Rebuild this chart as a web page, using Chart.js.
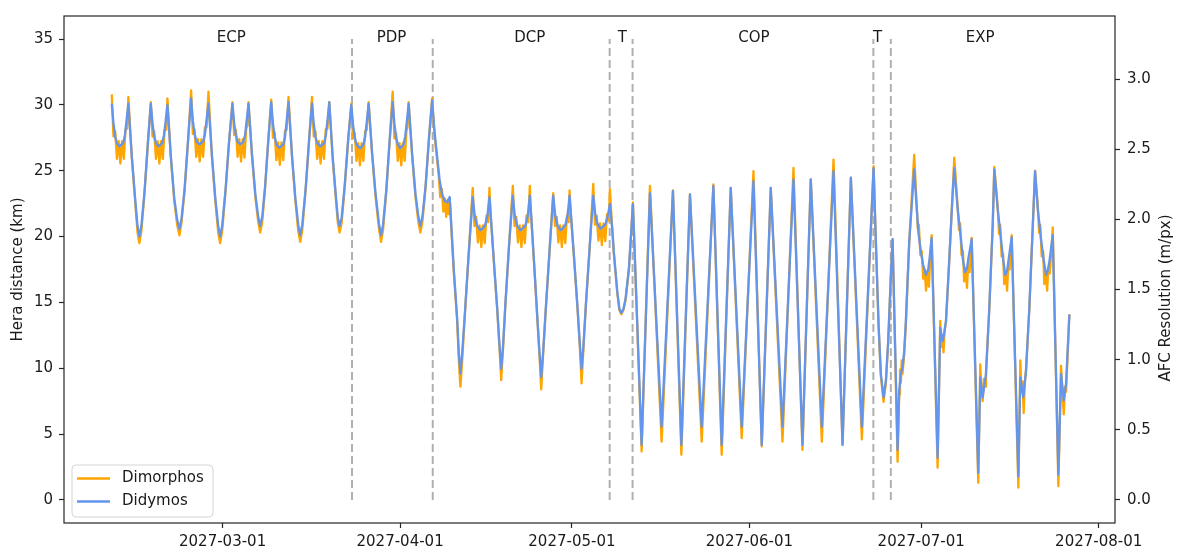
<!DOCTYPE html>
<html>
<head>
<meta charset="utf-8">
<script src="https://cdn.jsdelivr.net/npm/chart.js@4.4.1/dist/chart.umd.min.js"></script>
<style>
    html, body { margin: 0; padding: 0; background: #ffffff; }
    #wrap { width: 1177px; height: 553px; }
</style>
</head>
<body>
<div id="wrap"><canvas id="heraChart" width="1177" height="553"></canvas></div>
<script>
// x values are days of 2027 (0 = 2027-01-01 00:00)
const tickDays = [59, 90, 120, 151, 181, 212];
const tickLabels = ["2027-03-01", "2027-04-01", "2027-05-01", "2027-06-01", "2027-07-01", "2027-08-01"];
const kmTicks = [0, 5, 10, 15, 20, 25, 30, 35];
const resTicks = [0.0, 0.5, 1.0, 1.5, 2.0, 2.5, 3.0];
const kmPerRes = 10.65; // km of Hera distance per m/px of AFC resolution

const phaseBounds = [81.6, 95.7, 126.6, 130.6, 172.65, 175.7];
const phaseLineKm = [0, 35];
const phaseNames = ["ECP", "PDP", "DCP", "T", "COP", "T", "EXP"];
const phaseLabelDays = [60.5, 88.5, 112.65, 128.8, 151.8, 173.4, 191.3];
const phaseLabelKm = 34.8;

// Didymos distance (km)
const didymosECP = [
    [39.64,30.1],[39.94,28.6],[40.24,27.6],[40.54,27.1],[40.97,26.85],[41.64,27.1],[41.94,27.7],[42.24,28.9],[42.54,30.1],
    [43.14,26.1],[43.74,22.8],[44.14,20.8],[44.46,20.0],[44.81,20.8],[45.36,23.4],[45.96,27.2],
    [46.46,30.1],[46.76,28.6],[47.06,27.6],[47.36,27.1],[47.79,26.85],[48.46,27.1],[48.76,27.7],[49.06,28.8],[49.36,30.0],
    [49.96,26.1],[50.56,22.9],[51.06,21.3],[51.46,20.6],[51.81,21.3],[52.36,23.6],[52.96,27.3],
    [53.50,30.5],[53.80,28.8],[54.10,27.8],[54.40,27.25],[54.95,27.0],[55.63,27.25],[55.93,27.8],[56.23,29.0],[56.53,30.1],
    [57.13,26.2],[57.73,22.9],[58.23,20.8],[58.57,20.0],[58.92,20.8],[59.52,23.6],[60.12,27.2],
    [60.72,30.1],[61.02,28.6],[61.32,27.7],[61.62,27.2],[62.07,27.0],[62.62,27.2],[62.92,27.7],[63.22,28.9],[63.52,30.1],
    [64.12,26.3],[64.72,23.2],[65.22,21.5],[65.57,20.8],[65.92,21.5],[66.42,23.8],[66.97,27.3],
    [67.49,30.2],[67.79,28.6],[68.09,27.6],[68.39,27.0],[68.94,26.75],[69.61,27.0],[69.91,27.6],[70.21,28.9],[70.51,30.2],
    [71.11,26.2],[71.71,22.9],[72.21,20.9],[72.56,20.1],[72.91,20.9],[73.51,23.7],[74.11,27.4],
    [74.61,30.1],[74.91,28.6],[75.21,27.6],[75.51,27.1],[76.06,26.85],[76.73,27.1],[77.03,27.7],[77.33,28.9],[77.63,30.2],
    [78.23,26.0],[78.83,22.8],[79.13,21.4],[79.43,20.8],[79.78,21.4],[80.33,23.9],[80.93,27.4]
];
const didymosPDP = [
    [81.48,30.0],[81.78,28.5],[82.08,27.5],[82.38,27.0],[83.05,26.7],[83.60,27.0],[83.90,27.6],[84.20,28.8],[84.50,30.1],
    [85.10,26.4],[85.70,23.3],[86.30,21.0],[86.67,20.1],[87.02,20.9],[87.60,23.6],[88.15,27.2],
    [88.70,30.2],[89.00,28.6],[89.30,27.5],[89.60,27.0],[90.04,26.7],[90.59,27.0],[90.89,27.6],[91.19,28.8],[91.49,30.1],
    [92.09,26.3],[92.69,23.2],[93.19,21.5],[93.54,20.8],[93.89,21.5],[94.44,23.8],[95.04,27.5],[95.59,30.35]
];
const didymosDCP = [
    [96.00,28.0],[96.46,26.1],[96.90,24.3],[97.33,23.2],[97.80,22.7],[98.21,22.6],[98.66,23.0],
    [99.36,17.6],[99.96,13.8],[100.25,11.2],[100.53,9.6],[100.83,11.1],[101.30,14.1],[101.90,18.2],
    [102.68,23.0],[103.03,21.6],[103.43,20.85],[104.03,20.47],[104.85,20.85],[105.25,21.6],[105.60,23.0],
    [105.80,21.8],[106.35,18.3],[106.95,14.6],[107.35,11.8],[107.65,9.95],[107.95,11.5],[108.40,15.0],[109.00,19.2],
    [109.68,23.1],[110.03,21.6],[110.43,20.85],[111.02,20.47],[111.90,20.85],[112.30,21.6],[112.65,23.1],
    [112.85,21.9],[113.40,18.0],[114.00,13.6],[114.34,11.2],[114.64,9.32],[114.94,11.0],[115.45,14.6],[116.10,19.0],
    [116.74,23.1],[117.09,21.6],[117.49,20.85],[118.02,20.47],[118.84,20.85],[119.24,21.6],[119.59,23.1],
    [119.80,21.9],[120.40,18.3],[121.00,14.5],[121.39,11.8],[121.69,9.95],[121.99,11.5],[122.45,14.9],[123.10,19.2],
    [123.73,23.1],[124.08,21.7],[124.48,20.95],[125.01,20.6],[125.89,20.95],[126.29,21.6],[126.64,22.46]
];
const didymosT1 = [
    [127.05,20.6],[127.33,18.8],[127.93,15.8],[128.30,14.5],[128.63,14.2],[129.00,14.5],[129.38,15.3],[129.96,17.6],[130.25,19.6],[130.66,22.46]
];
const didymosCOP = [
    [132.18,4.18],[133.63,23.3],[135.67,5.56],[137.65,23.47],[139.12,4.18],[140.62,23.2],[142.67,5.56],[144.71,23.85],
    [146.16,4.18],[147.74,23.7],[149.66,5.56],[151.71,24.2],[153.16,4.18],[154.73,23.7],[156.78,5.56],[158.70,24.34],
    [160.27,4.18],[161.72,24.34],[163.65,5.56],[165.69,24.97],[167.27,4.18],[168.72,24.47],[170.64,5.56],[172.69,25.2]
];
const didymosT2 = [
    [173.09,19.6],[173.56,13.3],[173.96,9.57],[174.43,7.8],[174.84,9.07],[175.24,12.07],[175.71,17.1],[176.01,19.8]
];
const didymosEXP = [
    [176.88,3.8],[177.16,8.3],[177.46,9.6],[177.75,10.1],[178.04,11.3],[178.33,13.6],[178.91,19.6],[179.78,25.1],
    [180.17,22.5],[180.52,20.3],[180.96,18.8],[181.31,17.9],[181.83,17.1],[182.23,17.5],[182.53,18.6],[182.83,19.9],
    [183.87,3.2],[184.33,13.07],[184.75,12.07],[185.03,12.7],[185.33,13.6],[185.91,18.3],[186.50,23.3],[186.78,25.2],
    [187.37,22.1],[187.95,19.8],[188.30,18.2],[188.65,17.3],[189.00,17.6],[189.23,18.3],[189.82,19.8],
    [190.97,2.05],[191.32,9.3],[191.74,7.8],[192.32,9.57],[192.90,14.6],[193.49,20.84],[193.77,25.1],
    [194.36,22.1],[194.94,19.8],[195.30,18.3],[195.69,17.1],[196.00,17.4],[196.22,18.1],[196.81,19.96],
    [197.97,1.8],[198.32,9.3],[198.84,7.8],[199.31,9.8],[199.89,14.6],[200.49,20.8],[200.89,24.97],
    [201.36,22.1],[201.93,19.8],[202.40,18.2],[202.81,17.1],[203.10,17.4],[203.39,18.1],[203.98,20.1],
    [204.96,1.92],[205.43,9.57],[205.90,7.57],[206.30,8.8],[206.88,14.08]
];

// Dimorphos distance (km)
const dimorphosECP = [
    [39.64,30.8],[39.94,27.6],[40.24,28.0],[40.54,25.9],[40.84,27.25],[41.14,25.55],[41.44,27.25],[41.74,25.9],[42.04,28.15],[42.34,28.2],[42.54,30.6],
    [43.14,26.0],[43.74,22.6],[44.14,20.3],[44.46,19.5],[44.81,20.4],[45.36,23.3],[45.96,27.1],
    [46.46,30.2],[46.76,27.6],[47.06,28.0],[47.36,25.9],[47.66,27.25],[47.96,25.55],[48.26,27.25],[48.56,25.9],[48.86,28.1],[49.16,28.1],[49.36,30.5],
    [49.96,26.0],[50.56,22.7],[51.06,20.9],[51.46,20.1],[51.81,21.0],[52.36,23.5],[52.96,27.2],
    [53.50,31.1],[53.80,27.8],[54.10,28.15],[54.40,26.05],[54.70,27.4],[55.00,25.7],[55.30,27.4],[55.60,26.05],[55.90,28.3],[56.20,28.3],[56.53,31.0],
    [57.13,26.1],[57.73,22.7],[58.23,20.3],[58.57,19.5],[58.92,20.4],[59.52,23.5],[60.12,27.1],
    [60.72,30.2],[61.02,27.7],[61.32,28.1],[61.62,26.05],[61.92,27.4],[62.22,25.7],[62.52,27.4],[62.82,26.0],[63.12,28.2],[63.32,28.4],[63.52,30.2],
    [64.12,26.2],[64.72,23.0],[65.22,21.1],[65.57,20.3],[65.92,21.1],[66.42,23.7],[66.97,27.2],
    [67.49,30.4],[67.79,27.5],[68.09,27.9],[68.39,25.8],[68.69,27.15],[68.99,25.45],[69.29,27.15],[69.59,25.8],[69.89,28.05],[70.19,28.1],[70.51,30.6],
    [71.11,26.1],[71.71,22.7],[72.21,20.4],[72.56,19.6],[72.91,20.5],[73.51,23.6],[74.11,27.3],
    [74.61,30.6],[74.91,27.6],[75.21,28.0],[75.51,25.9],[75.81,27.25],[76.11,25.55],[76.41,27.25],[76.71,25.9],[77.01,28.15],[77.31,28.2],[77.63,30.2],
    [78.23,25.9],[78.83,22.6],[79.13,21.0],[79.43,20.3],[79.78,21.0],[80.33,23.8],[80.93,27.3]
];
const dimorphosPDP = [
    [81.48,30.1],[81.78,27.45],[82.08,27.85],[82.38,25.75],[82.68,27.1],[82.98,25.4],[83.28,27.1],[83.58,25.75],[83.88,28.0],[84.18,28.1],[84.50,30.2],
    [85.10,26.3],[85.70,23.1],[86.30,20.6],[86.67,19.6],[87.02,20.5],[87.60,23.5],[88.15,27.1],
    [88.70,31.0],[89.00,27.45],[89.30,27.85],[89.60,25.75],[89.90,27.1],[90.20,25.4],[90.50,27.1],[90.80,25.75],[91.10,28.0],[91.30,28.3],[91.49,30.2],
    [92.09,26.2],[92.69,23.0],[93.19,21.1],[93.54,20.3],[93.89,21.1],[94.44,23.7],[95.04,27.4],[95.59,30.5]
];
const dimorphosDCP = [
    [96.00,27.8],[96.46,25.8],[96.75,24.6],[97.00,23.0],[97.30,23.6],[97.55,21.9],[97.80,22.9],[98.05,21.5],[98.30,22.8],[98.50,21.7],[98.66,22.9],
    [99.36,17.4],[99.96,13.6],[100.25,10.6],[100.53,8.6],[100.83,10.5],[101.30,14.0],[101.90,18.1],
    [102.68,23.7],[102.98,20.8],[103.28,21.5],[103.58,19.55],[103.88,20.85],[104.18,19.2],[104.48,20.85],[104.78,19.5],[105.08,21.6],[105.38,21.1],[105.60,23.7],
    [105.80,21.7],[106.35,18.2],[106.95,14.5],[107.35,11.6],[107.65,9.1],[107.95,11.3],[108.40,14.9],[109.00,19.1],
    [109.68,23.85],[109.98,20.8],[110.28,21.5],[110.58,19.55],[110.88,20.85],[111.18,19.2],[111.48,20.85],[111.78,19.5],[112.08,21.6],[112.38,21.1],[112.65,23.85],
    [112.85,21.8],[113.40,17.9],[114.00,13.5],[114.34,11.0],[114.64,8.4],[114.94,10.8],[115.45,14.5],[116.10,18.9],
    [116.74,23.3],[117.04,20.8],[117.34,21.5],[117.64,19.55],[117.94,20.85],[118.24,19.2],[118.54,20.85],[118.84,19.5],[119.14,21.6],[119.44,21.1],[119.59,23.5],
    [119.80,21.8],[120.40,18.2],[121.00,14.4],[121.39,11.6],[121.69,8.85],[121.99,11.3],[122.45,14.8],[123.10,19.1],
    [123.73,24.0],[124.03,20.9],[124.33,21.6],[124.63,19.7],[124.93,21.0],[125.23,19.35],[125.53,21.0],[125.83,19.65],[126.13,21.7],[126.43,21.2],[126.64,23.6]
];
const dimorphosT1 = [
    [127.05,20.5],[127.33,18.7],[127.93,15.7],[128.30,14.4],[128.63,14.1],[129.00,14.4],[129.38,15.2],[129.96,17.5],[130.25,19.5],[130.66,22.6]
];
const dimorphosCOP = [
    [132.18,3.68],[133.63,23.85],[135.67,4.43],[137.65,23.5],[139.12,3.43],[140.62,23.2],[142.67,4.43],[144.71,23.97],
    [146.16,3.43],[147.74,23.7],[149.66,4.69],[151.71,24.97],[153.16,4.06],[154.73,23.7],[156.78,4.43],[158.70,25.22],
    [160.27,3.8],[161.72,24.34],[163.65,4.43],[165.69,25.85],[167.27,4.18],[168.72,24.47],[170.64,4.6],[172.69,25.35]
];
const dimorphosT2 = [
    [173.09,19.5],[173.56,13.2],[173.96,9.4],[174.43,7.45],[174.84,8.9],[175.24,12.0],[175.71,17.0],[176.01,19.8]
];
const dimorphosEXP = [
    [176.88,2.9],[177.16,8.0],[177.30,9.9],[177.46,8.9],[177.60,10.6],[177.75,9.6],[178.04,11.1],[178.33,13.4],[178.91,19.5],[179.78,26.2],
    [180.17,22.8],[180.40,20.6],[180.60,20.9],[180.85,18.6],[181.10,18.9],[181.35,16.8],[181.60,17.5],[181.85,15.9],[182.10,17.4],[182.35,16.2],[182.60,18.5],[182.83,20.1],
    [183.87,2.45],[184.33,13.6],[184.50,11.6],[184.75,12.4],[184.90,11.2],[185.10,12.9],[185.33,13.5],[185.91,18.2],[186.50,23.4],[186.78,26.0],
    [187.37,22.3],[187.60,20.5],[187.80,21.0],[188.05,18.6],[188.30,18.9],[188.50,16.6],[188.75,17.6],[189.00,16.1],[189.20,17.9],[189.45,17.3],[189.82,19.9],
    [190.97,1.3],[191.32,10.3],[191.50,8.4],[191.74,7.5],[191.95,9.2],[192.15,8.6],[192.32,9.7],[192.90,14.5],[193.49,20.8],[193.77,25.3],
    [194.36,22.3],[194.60,20.2],[194.80,20.9],[195.05,18.5],[195.30,18.7],[195.50,16.4],[195.75,17.3],[196.00,15.9],[196.20,17.7],[196.45,17.5],[196.81,20.1],
    [197.97,0.93],[198.32,10.6],[198.50,8.2],[198.70,9.0],[198.90,6.6],[199.10,8.9],[199.31,9.9],[199.89,14.5],[200.49,20.8],[200.89,25.0],
    [201.36,22.3],[201.60,20.3],[201.80,20.9],[202.05,18.5],[202.30,18.9],[202.50,16.4],[202.75,17.3],[203.00,15.9],[203.20,17.6],[203.45,17.2],[203.75,19.0],[203.98,20.7],
    [204.96,1.05],[205.43,10.2],[205.65,8.3],[205.90,6.5],[206.10,8.6],[206.30,8.2],[206.88,14.1]
];

const xMin = 31.3, xMax = 214.85;
const kmMin = -1.75, kmMax = 36.75;

const FONT = "'DejaVu Sans', 'Liberation Sans', sans-serif";
const INK = "#1a1a1a";
const ORANGE = "#ffa500";
const BLUE = "#6495ed";

const toPoints = (pairs) => pairs.map(([x, y]) => ({ x: x, y: y }));

const didymos = [].concat(didymosECP, didymosPDP, didymosDCP, didymosT1, didymosCOP, didymosT2, didymosEXP);
const dimorphos = [].concat(dimorphosECP, dimorphosPDP, dimorphosDCP, dimorphosT1, dimorphosCOP, dimorphosT2, dimorphosEXP);

const phaseLineSets = phaseBounds.map((b) => ({
    label: "phase",
    data: phaseLineKm.map((km) => ({ x: b, y: km })),
    borderColor: "rgba(150, 150, 150, 0.75)",
    borderWidth: 2,
    borderDash: [8, 4],
    pointRadius: 0,
    order: 2,
}));

// Phase names, frame, legend and axis titles
const heraDecor = {
    id: "heraDecor",
    afterDraw(chart) {
        const { ctx, chartArea: area, scales } = chart;
        const x = scales.x, y = scales.y;
        ctx.save();

        ctx.font = "15px " + FONT;
        ctx.fillStyle = INK;
        ctx.textAlign = "center";
        ctx.textBaseline = "alphabetic";
        phaseNames.forEach((name, i) => {
            ctx.fillText(name, x.getPixelForValue(phaseLabelDays[i]), y.getPixelForValue(phaseLabelKm));
        });

        // frame
        ctx.strokeStyle = "#262626";
        ctx.lineWidth = 1.2;
        ctx.strokeRect(area.left, area.top, area.right - area.left, area.bottom - area.top);

        // legend
        const lx = area.left + 8, ly = area.bottom - 58;
        ctx.fillStyle = "rgba(255, 255, 255, 0.85)";
        ctx.strokeStyle = "#d4d4d4";
        ctx.lineWidth = 1;
        ctx.beginPath();
        ctx.roundRect(lx, ly, 141, 52, 4);
        ctx.fill();
        ctx.stroke();
        const entries = chart.data.datasets.filter((d) => d.label !== "phase");
        entries.sort((a, b) => a.legendIndex - b.legendIndex);
        entries.forEach((d, i) => {
            const ey = ly + 13.5 + i * 23;
            ctx.strokeStyle = d.borderColor;
            ctx.lineWidth = 2.3;
            ctx.beginPath();
            ctx.moveTo(lx + 5, ey);
            ctx.lineTo(lx + 38, ey);
            ctx.stroke();
            ctx.fillStyle = INK;
            ctx.textAlign = "left";
            ctx.textBaseline = "middle";
            ctx.fillText(d.label, lx + 50, ey);
        });

        // axis titles
        ctx.textAlign = "center";
        ctx.textBaseline = "middle";
        ctx.fillStyle = INK;
        ctx.translate(18, (area.top + area.bottom) / 2);
        ctx.rotate(-Math.PI / 2);
        ctx.fillText("Hera distance (km)", 0, 0);
        ctx.setTransform(1, 0, 0, 1, 0, 0);
        ctx.translate(1166, 298);
        ctx.rotate(-Math.PI / 2);
        ctx.fillText("AFC Resolution (m/px)", 0, 0);
        ctx.restore();
    },
};

const tickStyle = {
    display: true,
    drawOnChartArea: false,
    drawTicks: true,
    tickLength: 5,
    tickColor: "#262626",
    tickWidth: 1.2,
};

document.addEventListener("DOMContentLoaded", function () {
    const ctx = document.getElementById("heraChart").getContext("2d");
    Chart.defaults.font.family = FONT;
    Chart.defaults.font.size = 15;
    Chart.defaults.color = INK;

    new Chart(ctx, {
        type: "line",
        data: {
            datasets: [
                {
                    label: "Dimorphos",
                    legendIndex: 0,
                    data: toPoints(dimorphos),
                    borderColor: ORANGE,
                    borderWidth: 2.3,
                    pointRadius: 0,
                    tension: 0,
                    borderJoinStyle: "round",
                    order: 1,
                },
                {
                    label: "Didymos",
                    legendIndex: 1,
                    data: toPoints(didymos),
                    borderColor: BLUE,
                    borderWidth: 2.3,
                    pointRadius: 0,
                    tension: 0,
                    borderJoinStyle: "round",
                    order: 0,
                },
            ].concat(phaseLineSets),
        },
        options: {
            responsive: false,
            animation: false,
            layout: { padding: { top: 11, left: 0, right: 0, bottom: 0 } },
            plugins: {
                legend: { display: false },
                tooltip: { enabled: false },
            },
            scales: {
                x: {
                    type: "linear",
                    min: xMin,
                    max: xMax,
                    afterBuildTicks: (axis) => {
                        axis.ticks = tickDays.map((v) => ({ value: v }));
                    },
                    afterFit: (axis) => { axis.height = 30; },
                    ticks: {
                        autoSkip: false,
                        maxRotation: 0,
                        padding: 5,
                        callback: (v) => tickLabels[tickDays.indexOf(v)],
                    },
                    grid: tickStyle,
                    border: { display: false },
                },
                y: {
                    position: "left",
                    min: kmMin,
                    max: kmMax,
                    afterBuildTicks: (axis) => {
                        axis.ticks = kmTicks.map((v) => ({ value: v }));
                    },
                    afterFit: (axis) => { axis.width = 64; },
                    ticks: { padding: 6, callback: (v) => String(v) },
                    grid: tickStyle,
                    border: { display: false },
                },
                y2: {
                    position: "right",
                    min: kmMin / kmPerRes,
                    max: kmMax / kmPerRes,
                    afterBuildTicks: (axis) => {
                        axis.ticks = resTicks.map((v) => ({ value: v }));
                    },
                    afterFit: (axis) => { axis.width = 62; },
                    ticks: { padding: 7, callback: (v) => v.toFixed(1) },
                    grid: tickStyle,
                    border: { display: false },
                },
            },
        },
        plugins: [heraDecor],
    });
});
</script>
</body>
</html>
